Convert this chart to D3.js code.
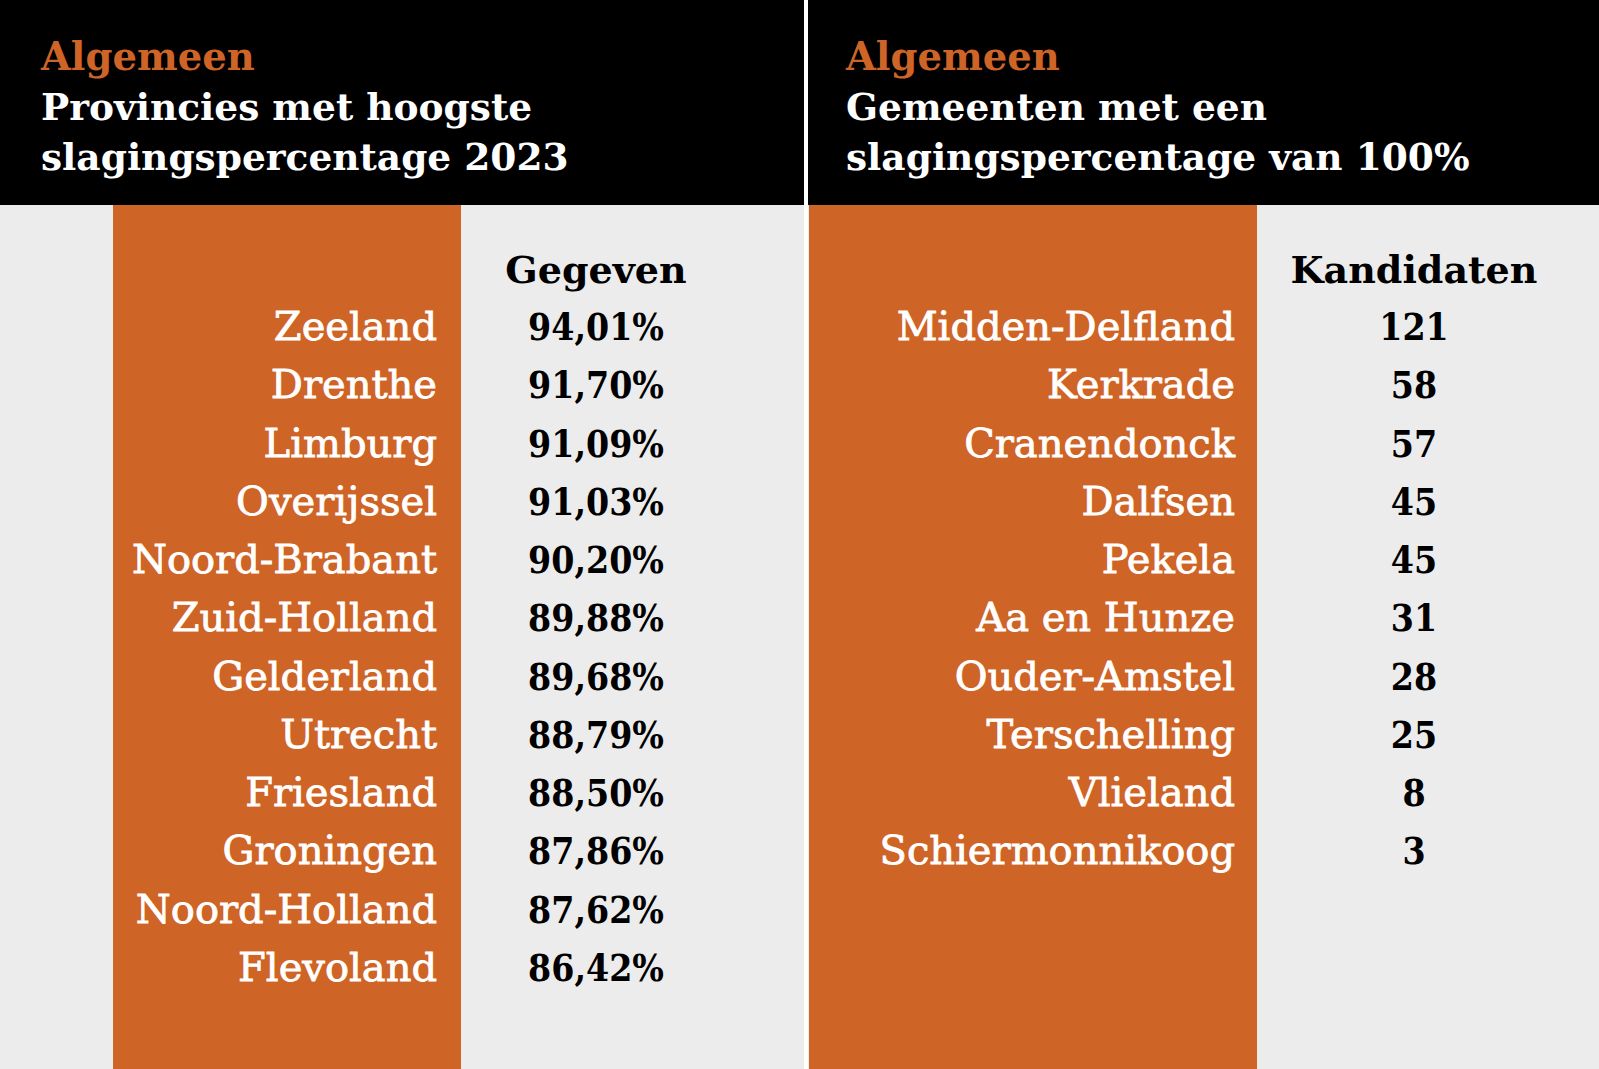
<!DOCTYPE html>
<html>
<head>
<meta charset="utf-8">
<script src="https://cdn.jsdelivr.net/npm/d3@7"></script>
<style>
  html, body { margin: 0; padding: 0; background: #ececec; }
  svg { display: block; }
</style>
</head>
<body>
<script>
// ---- data ----
const leftKicker = "Algemeen";
const leftTitle = ["Provincies met hoogste", "slagingspercentage 2023"];
const leftColumnHeader = "Gegeven";
const provinces = ["Zeeland", "Drenthe", "Limburg", "Overijssel", "Noord-Brabant", "Zuid-Holland",
  "Gelderland", "Utrecht", "Friesland", "Groningen", "Noord-Holland", "Flevoland"];
const passRates = [94.01, 91.70, 91.09, 91.03, 90.20, 89.88, 89.68, 88.79, 88.50, 87.86, 87.62, 86.42];

const rightKicker = "Algemeen";
const rightTitle = ["Gemeenten met een", "slagingspercentage van 100%"];
const rightColumnHeader = "Kandidaten";
const municipalities = ["Midden-Delfland", "Kerkrade", "Cranendonck", "Dalfsen", "Pekela",
  "Aa en Hunze", "Ouder-Amstel", "Terschelling", "Vlieland", "Schiermonnikoog"];
const candidates = [121, 58, 57, 45, 45, 31, 28, 25, 8, 3];

// ---- layout ----
const W = 1599, H = 1069;
const ORANGE = "#cf6427", GREY = "#ececec", BLACK = "#000000";
const FONT = "'DejaVu Serif', serif";
const FONT_C = "'DejaVu Serif Condensed', 'DejaVu Serif', serif";

const nl = d3.formatLocale({decimal: ",", thousands: ".", grouping: [3], currency: ["€", ""]});
const fmtPct = v => nl.format(".2f")(v) + "%";

const svg = d3.select("body").append("svg").attr("width", W).attr("height", H);
svg.append("rect").attr("width", W).attr("height", H).attr("fill", GREY);

// row baseline scale (shared)
const rowY = d3.scaleLinear().domain([0, 11]).range([340, 981]);

const panels = [
  {x0: 0, colL: 113, colR: 461, labelX: 437, valueX: 596, tx: 41,
   kicker: leftKicker, title: leftTitle, header: leftColumnHeader,
   labels: provinces, values: passRates, fmt: fmtPct},
  {x0: 808, colL: 809, colR: 1257, labelX: 1235, valueX: 1414, tx: 846,
   kicker: rightKicker, title: rightTitle, header: rightColumnHeader,
   labels: municipalities, values: candidates, fmt: d => String(d)}
];

// header band
svg.append("rect").attr("x", 0).attr("y", 0).attr("width", W).attr("height", 205).attr("fill", BLACK);

panels.forEach(p => {
  const g = svg.append("g");
  g.append("rect").attr("x", p.colL).attr("y", 205).attr("width", p.colR - p.colL).attr("height", H - 205)
    .attr("fill", ORANGE);

  g.append("text").attr("x", p.tx).attr("y", 70).text(p.kicker)
    .attr("fill", ORANGE).attr("font-family", FONT).attr("font-weight", "bold").attr("font-size", 38.5);
  p.title.forEach((t, i) => {
    g.append("text").attr("x", p.tx).attr("y", 120 + i * 50).text(t)
      .attr("fill", "#fff").attr("font-family", FONT).attr("font-weight", "bold").attr("font-size", 37.5);
  });

  g.append("text").attr("x", p.valueX).attr("y", 283).attr("text-anchor", "middle").text(p.header)
    .attr("fill", "#000").attr("font-family", FONT).attr("font-weight", "bold").attr("font-size", 38);

  g.selectAll("text.label").data(p.labels).join("text").attr("class", "label")
    .attr("x", p.labelX).attr("y", (d, i) => rowY(i)).attr("text-anchor", "end")
    .attr("fill", "#fff").attr("stroke", "#fff").attr("stroke-width", 0.8)
    .attr("font-family", FONT).attr("font-size", 40).text(d => d);

  g.selectAll("text.value").data(p.values).join("text").attr("class", "value")
    .attr("x", p.valueX).attr("y", (d, i) => rowY(i)).attr("text-anchor", "middle")
    .attr("fill", "#000").attr("font-family", FONT_C).attr("font-stretch", "condensed")
    .attr("font-weight", "bold").attr("font-size", 37).text(d => p.fmt(d));
});

// divider
svg.append("rect").attr("x", 804).attr("y", 0).attr("width", 4).attr("height", H).attr("fill", "#ffffff");
</script>
</body>
</html>
